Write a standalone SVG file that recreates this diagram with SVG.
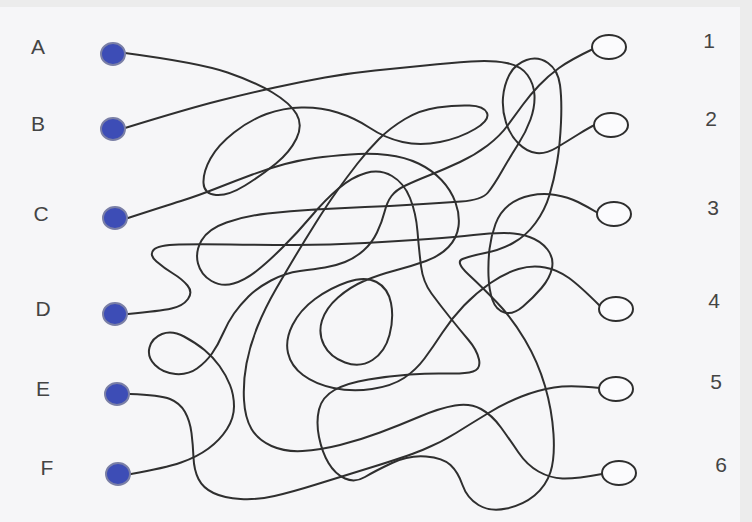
<svg xmlns="http://www.w3.org/2000/svg" width="752" height="522" viewBox="0 0 752 522">
<style>
.bg{fill:#f6f6f8}
.lbl{font-family:"Liberation Sans",Arial,sans-serif;font-size:21px;fill:#444444;text-anchor:middle}
.dot{fill:#3d4db6;stroke:#7a7fa6;stroke-width:2}
.ring{fill:#fbfbfd;stroke:#2e2e2e;stroke-width:2}
.wire{fill:none;stroke:#2f2f2f;stroke-width:2;stroke-linecap:round;stroke-linejoin:round}
</style>
<rect class="bg" x="0" y="0" width="752" height="522"/>
<rect x="0" y="0" width="752" height="7" fill="#ececec"/>
<rect x="740" y="0" width="12" height="522" fill="#ececec"/>
<g id="connectors">
<path class="wire" id="wire-A" d="M125,53 Q200,63 227.5,72.5 Q255,82 272.5,92.5 Q290,103 296.5,114 Q303,125 296.5,138.5 Q290,152 276,163.5 Q262,175 245,185.5 Q228,196 216,195 Q204,194 203.5,183 Q203,172 210.5,158.5 Q218,145 234,132.5 Q250,120 266.5,114 Q283,108 301.5,107.5 Q320,107 337.5,112.5 Q355,118 370,128 Q385,138 402.5,142 Q420,146 440,142 Q460,138 475,129 Q490,120 487,113 Q484,106 469.5,105.5 Q455,105 437.5,107.5 Q420,110 405,119 Q390,128 379,139 Q368,150 357.5,163.5 Q347,177 337,191 Q327,205 316,222.5 Q305,240 296,255 Q287,270 276,289 Q265,308 257.5,326.5 Q250,345 246.5,363.5 Q243,382 244,400 Q245,418 251.5,429 Q258,440 271.5,446 Q285,452 302.5,451 Q320,450 340,445 Q360,440 380,432.5 Q400,425 420,416.5 Q440,408 455,405.5 Q470,403 481,409 Q492,415 501,427.5 Q510,440 518.5,452.5 Q527,465 538.5,471.5 Q550,478 562.5,478.5 Q575,479 602,474"/>
<path class="wire" id="wire-B" d="M125,128 Q190,108 220,100.5 Q250,93 275,87.5 Q300,82 325,77.5 Q350,73 375,70.5 Q400,68 425,65.5 Q450,63 471,61.5 Q492,60 506.5,63 Q521,66 527.5,75 Q534,84 534.5,95.5 Q535,107 530.5,119.5 Q526,132 518,144.5 Q510,157 502,171 Q494,185 488,192.5 Q482,200 461,201.5 Q440,203 415,204.5 Q390,206 365,207 Q340,208 315,209.5 Q290,211 267.5,213.5 Q245,216 226.5,222.5 Q208,229 201.5,240.5 Q195,252 198,263.5 Q201,275 211.5,281 Q222,287 233.5,283.5 Q245,280 256.5,271 Q268,262 283,247 Q298,232 311.5,216 Q325,200 338.5,188.5 Q352,177 366,173 Q380,169 392,176 Q404,183 410,198 Q416,213 417.5,231.5 Q419,250 421,266 Q423,282 431.5,293.5 Q440,305 450,317.5 Q460,330 468.5,340 Q477,350 479,359.5 Q481,369 473,371.5 Q465,374 447.5,373.5 Q430,373 410,374.5 Q390,376 368.5,379.5 Q347,383 334.5,390 Q322,397 319,409.5 Q316,422 319,437 Q322,452 328.5,463 Q335,474 345,478.5 Q355,483 365,477 Q375,471 392,463 Q409,455 426,456.5 Q443,458 450.5,465 Q458,472 462.5,485 Q467,498 478.5,505 Q490,512 506.5,508.5 Q523,505 534.5,495.5 Q546,486 550.5,472 Q555,458 553.5,434 Q552,410 545,386 Q538,362 525,340 Q512,318 497,302.5 Q482,287 468.5,274.5 Q455,262 462.5,259 Q470,256 485,253 Q500,250 513,243 Q526,236 535.5,223 Q545,210 549.5,195 Q554,180 557,162.5 Q560,145 561,122.5 Q562,100 560,85 Q558,70 548,63 Q538,56 526.5,60 Q515,64 509.5,74.5 Q504,85 503,97.5 Q502,110 506,122.5 Q510,135 518.5,143.5 Q527,152 536.5,153 Q546,154 556,148 Q566,142 578,134.5 Q590,127 595,125"/>
<path class="wire" id="wire-C" d="M128,218 Q165,206 181,201 Q197,196 216,188.5 Q235,181 252.5,174.5 Q270,168 285,164 Q300,160 315,158 Q330,156 350,154.5 Q370,153 387.5,155 Q405,157 418.5,163.5 Q432,170 441.5,180 Q451,190 455.5,202.5 Q460,215 458.5,226.5 Q457,238 448.5,247 Q440,256 426,261 Q412,266 395,270.5 Q378,275 364,281 Q350,287 338,297.5 Q326,308 322,320.5 Q318,333 324,345 Q330,357 345,362.5 Q360,368 372.5,360 Q385,352 389.5,335 Q394,318 391,303 Q388,288 376.5,282 Q365,276 347.5,282 Q330,288 315,299 Q300,310 292.5,325 Q285,340 288,353 Q291,366 303,375 Q315,384 333.5,388 Q352,392 372,389 Q392,386 404,378 Q416,370 424.5,358.5 Q433,347 442.5,332.5 Q452,318 464,305.5 Q476,293 490.5,283 Q505,273 518.5,269 Q532,265 545,267.5 Q558,270 569,278 Q580,286 600,306"/>
<path class="wire" id="wire-D" d="M128,314 Q160,311 171.5,308.5 Q183,306 188,299 Q193,292 187.5,285.5 Q182,279 173,273.5 Q164,268 156.5,261.5 Q149,255 153.5,250 Q158,245 179,244.5 Q200,244 230,244.5 Q260,245 295,245 Q330,245 365,243 Q400,241 428.5,239 Q457,237 473.5,235 Q490,233 504,233 Q518,233 529.5,237 Q541,241 547.5,249.5 Q554,258 552,268 Q550,278 541.5,288 Q533,298 523,306.5 Q513,315 504.5,312.5 Q496,310 492.5,300 Q489,290 488.5,276 Q488,262 489.5,249 Q491,236 495.5,224 Q500,212 509,205 Q518,198 530.5,195.5 Q543,193 555.5,195 Q568,197 578,202 Q588,207 598,213"/>
<path class="wire" id="wire-E" d="M130,394 Q160,395 170,399 Q180,403 185,412 Q190,421 191.5,433 Q193,445 193.5,457.5 Q194,470 198.5,479 Q203,488 213.5,493 Q224,498 240.5,499 Q257,500 274.5,496 Q292,492 316,484.5 Q340,477 372.5,467 Q405,457 422.5,450 Q440,443 456,433 Q472,423 488.5,413 Q505,403 521.5,396.5 Q538,390 554,387.5 Q570,385 600,388"/>
<path class="wire" id="wire-F" d="M131,474 Q165,468 181,462.5 Q197,457 208.5,448.5 Q220,440 227,429 Q234,418 234,406.5 Q234,395 230,385 Q226,375 219.5,366 Q213,357 204.5,350 Q196,343 184,336.5 Q172,330 162,334 Q152,338 149.5,347.5 Q147,357 155,365 Q163,373 175.5,374 Q188,375 197,368.5 Q206,362 212,353.5 Q218,345 223,333.5 Q228,322 234,313.5 Q240,305 248.5,296.5 Q257,288 271,280.5 Q285,273 300,271 Q315,269 325,267.5 Q335,266 345,262 Q355,258 363.5,250.5 Q372,243 377,232.5 Q382,222 384.5,212 Q387,202 391.5,196 Q396,190 405.5,185.5 Q415,181 430,175 Q445,169 460,162 Q475,155 487.5,145.5 Q500,136 508,125 Q516,114 523,104.5 Q530,95 539,85.5 Q548,76 559,68 Q570,60 593,49"/>
</g>
<g id="node-A"><ellipse class="dot" cx="113" cy="54" rx="12" ry="11"/><text class="lbl" x="38" y="54">A</text></g>
<g id="node-B"><ellipse class="dot" cx="113" cy="129" rx="12" ry="11"/><text class="lbl" x="38" y="131">B</text></g>
<g id="node-C"><ellipse class="dot" cx="115" cy="218" rx="12" ry="11"/><text class="lbl" x="41" y="221">C</text></g>
<g id="node-D"><ellipse class="dot" cx="115" cy="314" rx="12" ry="11"/><text class="lbl" x="43" y="316">D</text></g>
<g id="node-E"><ellipse class="dot" cx="117" cy="394" rx="12" ry="11"/><text class="lbl" x="43" y="396">E</text></g>
<g id="node-F"><ellipse class="dot" cx="118" cy="474" rx="12" ry="11"/><text class="lbl" x="47" y="475">F</text></g>
<g id="node-1"><ellipse class="ring" cx="609" cy="47" rx="17" ry="12"/><text class="lbl" x="709" y="48">1</text></g>
<g id="node-2"><ellipse class="ring" cx="611" cy="125" rx="17" ry="12"/><text class="lbl" x="711" y="126">2</text></g>
<g id="node-3"><ellipse class="ring" cx="614" cy="214" rx="17" ry="12"/><text class="lbl" x="713" y="215">3</text></g>
<g id="node-4"><ellipse class="ring" cx="616" cy="309" rx="17" ry="12"/><text class="lbl" x="714" y="308">4</text></g>
<g id="node-5"><ellipse class="ring" cx="616" cy="389" rx="17" ry="12"/><text class="lbl" x="716" y="389">5</text></g>
<g id="node-6"><ellipse class="ring" cx="619" cy="473" rx="17" ry="12"/><text class="lbl" x="721" y="472">6</text></g>
</svg>
